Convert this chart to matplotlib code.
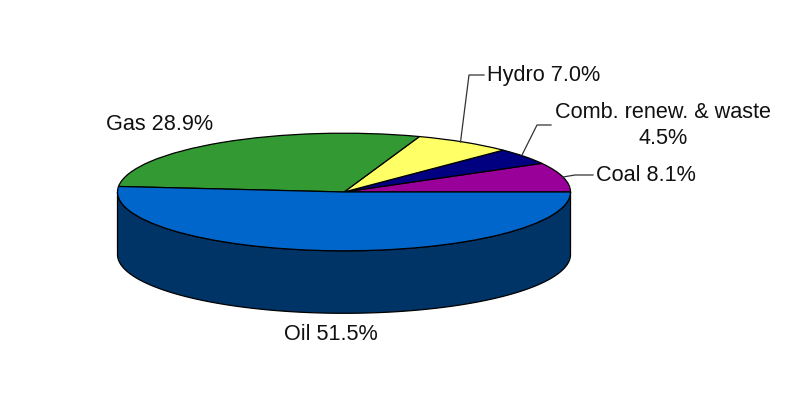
import numpy as np
import matplotlib
matplotlib.use("Agg")
import matplotlib.pyplot as plt
from matplotlib.patches import Wedge
from matplotlib.transforms import Affine2D

categories = ["Oil", "Coal", "Comb. renew. & waste", "Hydro", "Gas"]
shares = [51.5, 8.1, 4.5, 7.0, 28.9]
colors = ["#0066CC", "#990099", "#000080", "#FFFF66", "#339933"]
wall_color = "#003366"

cx, cy, rx, ry, depth = 344, 192, 226.5, 58.8, 62.5

plt.rcParams["font.family"] = ["Liberation Sans", "DejaVu Sans"]
fig = plt.figure(figsize=(8, 4), dpi=100, facecolor="white")
ax = fig.add_axes([0, 0, 1, 1])
ax.set_xlim(0, 800)
ax.set_ylim(400, 0)
ax.axis("off")

# Side wall (front half of the cylinder)
t = np.radians(np.linspace(180, 360, 200))
xs = cx + rx * np.cos(t)
ys = cy - ry * np.sin(t)
ax.fill(np.r_[xs, xs[::-1]], np.r_[ys, ys[::-1] + depth],
        facecolor=wall_color, edgecolor="black", lw=0.9, zorder=1)

# Top face: wedges run counter-clockwise from the right-hand side, Coal first, Oil last
tr = Affine2D().scale(rx, -ry).translate(cx, cy) + ax.transData
theta = 0.0
for name, share, color in zip(categories[1:] + categories[:1],
                              shares[1:] + shares[:1],
                              colors[1:] + colors[:1]):
    span = share * 3.6
    ax.add_patch(Wedge((0, 0), 1, theta, theta + span, facecolor=color,
                       edgecolor="black", lw=0.9, transform=tr, zorder=2))
    theta += span

# Leader lines
leaders = [
    ([460.5, 469, 484], [142, 75, 75]),
    ([522, 537, 551], [155, 125, 125]),
    ([563, 575, 593], [177, 175, 175]),
]
for lx, ly in leaders:
    ax.plot(lx, ly, color="#333333", lw=0.9, zorder=3)

fs = 15.6
def lab(x, y, i, ha="left"):
    ax.text(x, y, f"{categories[i]} {shares[i]:.1f}%", fontsize=fs, ha=ha,
            va="center", color="#111111")

lab(487, 75.5, 3)
lab(596, 175.5, 1)
lab(106, 124.5, 4)
lab(330.5, 334.5, 0, ha="center")
ax.text(663, 112.5, categories[2], fontsize=fs, ha="center", va="center", color="#111111")
ax.text(663, 138.5, f"{shares[2]:.1f}%", fontsize=fs, ha="center", va="center", color="#111111")

fig.savefig("out.png", dpi=100, facecolor="white")
